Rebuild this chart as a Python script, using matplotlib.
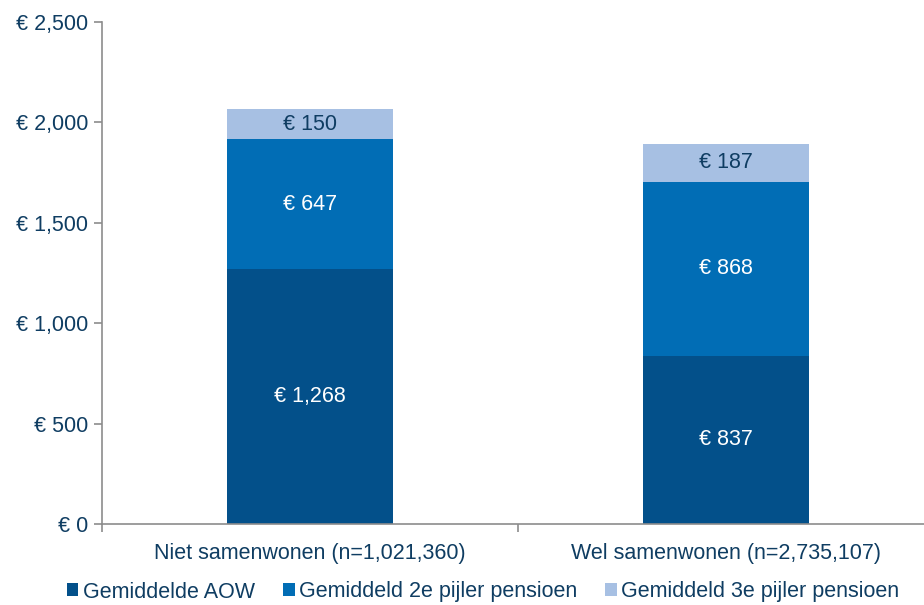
import matplotlib
matplotlib.use("Agg")
import matplotlib.pyplot as plt
from matplotlib.ticker import FuncFormatter

categories = ["Niet samenwonen (n=1,021,360)", "Wel samenwonen (n=2,735,107)"]
series_names = ["Gemiddelde AOW", "Gemiddeld 2e pijler pensioen", "Gemiddeld 3e pijler pensioen"]
aow = [1268, 837]
pijler2 = [647, 868]
pijler3 = [150, 187]

colors = ["#03508A", "#016DB5", "#A7C0E3"]
label_colors = ["white", "white", "#0F3D62"]
text_color = "#0F3D62"
fs = 15.5

plt.rcParams["font.family"] = ["Liberation Sans", "DejaVu Sans"]

fig = plt.figure(figsize=(9.24, 6.05), dpi=100)
ax = fig.add_axes([102 / 924, 1 - 524 / 605, 832 / 924, 502 / 605])

x = [0.5, 1.5]
bottom = [0, 0]
handles = []
for vals, name, col, lc in zip([aow, pijler2, pijler3], series_names, colors, label_colors):
    bars = ax.bar(x, vals, width=0.4, bottom=bottom, color=col, label=name)
    handles.append(bars)
    for xi, b, v in zip(x, bottom, vals):
        ax.text(xi, b + v / 2, f"€ {v:,}", ha="center", va="center", color=lc, fontsize=fs)
    bottom = [b + v for b, v in zip(bottom, vals)]

ax.set_xlim(0, 2)
ax.set_ylim(0, 2500)
ax.set_yticks(range(0, 2501, 500))
ax.yaxis.set_major_formatter(FuncFormatter(lambda v, p: f"€ {int(v):,}"))
ax.set_xticks([0, 1, 2])
ax.set_xticklabels([])
ax.set_xticks(x, minor=True)
ax.set_xticklabels(categories, minor=True)
ax.tick_params(axis="x", which="minor", length=0, pad=14, labelsize=fs, labelcolor=text_color)
ax.tick_params(axis="x", which="major", length=6, color="#8C8C8C", width=1.2)
ax.tick_params(axis="y", length=6, color="#8C8C8C", width=1.2, labelsize=fs,
               labelcolor=text_color, pad=4)

for s in ["top", "right"]:
    ax.spines[s].set_visible(False)
for s in ["left", "bottom"]:
    ax.spines[s].set_color("#8C8C8C")
    ax.spines[s].set_linewidth(1.2)

fig.legend(handles=handles, labels=series_names, loc="center", bbox_to_anchor=(483 / 924, 1 - 592 / 605),
           ncol=3, frameon=False, fontsize=fs, handlelength=0.55, handleheight=0.55,
           handletextpad=0.2, columnspacing=1.3, labelcolor=text_color)

fig.savefig("out.png", dpi=100)
